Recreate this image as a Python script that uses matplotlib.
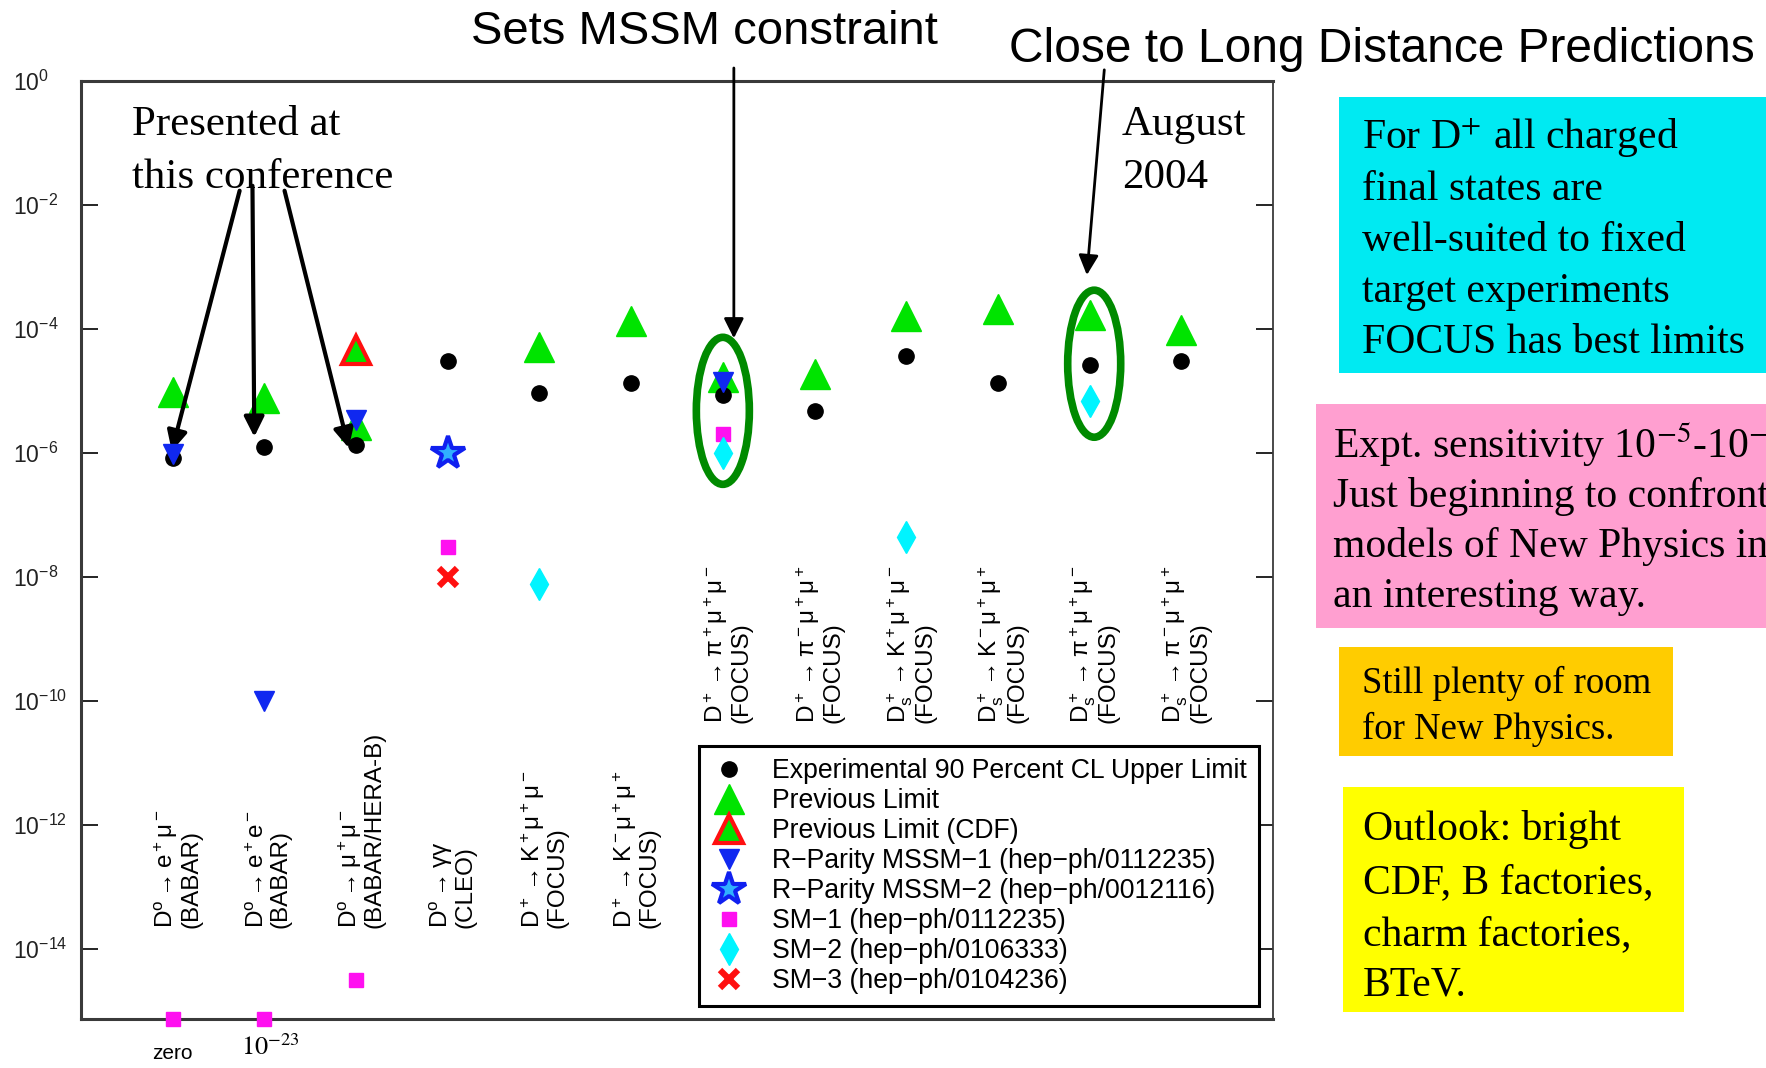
import numpy as np
import matplotlib
matplotlib.use("Agg")
import matplotlib.pyplot as plt
from matplotlib.patches import Ellipse, Rectangle

plt.rcParams['font.family'] = ['Liberation Sans', 'DejaVu Sans']
plt.rcParams['mathtext.fontset'] = 'custom'
plt.rcParams['mathtext.rm'] = 'Liberation Sans'
plt.rcParams['mathtext.it'] = 'Liberation Sans:italic'
plt.rcParams['mathtext.bf'] = 'Liberation Sans:bold'

# ---------------- data ----------------
nan = np.nan
decays = [r'D^o\rightarrow e^+\mu^-', r'D^o\rightarrow e^+e^-', r'D^o\rightarrow \mu^+\mu^-',
          r'D^o\rightarrow \gamma\gamma', r'D^+\rightarrow K^+\mu^+\mu^-', r'D^+\rightarrow K^-\mu^+\mu^+',
          r'D^+\rightarrow \pi^+\mu^+\mu^-', r'D^+\rightarrow \pi^-\mu^+\mu^+',
          r'D_s^+\rightarrow K^+\mu^+\mu^-', r'D_s^+\rightarrow K^-\mu^+\mu^+',
          r'D_s^+\rightarrow \pi^+\mu^+\mu^-', r'D_s^+\rightarrow \pi^-\mu^+\mu^+']
experiments = ['BABAR', 'BABAR', 'BABAR/HERA-B', 'CLEO', 'FOCUS', 'FOCUS',
               'FOCUS', 'FOCUS', 'FOCUS', 'FOCUS', 'FOCUS', 'FOCUS']
exp_limit = [8.3e-7, 1.26e-6, 1.36e-6, 3.0e-5, 9.3e-6, 1.36e-5,
             8.5e-6, 4.8e-6, 3.6e-5, 1.36e-5, 2.6e-5, 3.0e-5]
prev_limit = [9.8e-6, 7.6e-6, 2.8e-6, nan, 5.2e-5, 1.35e-4,
              1.7e-5, 1.9e-5, 1.6e-4, 2.1e-4, 1.7e-4, 9.8e-5]
prev_limit_cdf = [nan, nan, 4.6e-5, nan, nan, nan, nan, nan, nan, nan, nan, nan]
rpv_mssm1 = [9.8e-7, 1.0e-10, 3.4e-6, nan, nan, nan, 1.4e-5, nan, nan, nan, nan, nan]
rpv_mssm2 = [nan, nan, nan, 1.0e-6, nan, nan, nan, nan, nan, nan, nan, nan]
sm1 = [0.0, 1e-23, 3.2e-15, 3.0e-8, nan, nan, 2.0e-6, nan, nan, nan, nan, nan]
sm2 = [nan, nan, nan, nan, 7.6e-9, nan, 1.0e-6, nan, 4.4e-8, nan, 6.9e-6, nan]
sm3 = [nan, nan, nan, 1.0e-8, nan, nan, nan, nan, nan, nan, nan, nan]
ytick_exp = [0, -2, -4, -6, -8, -10, -12, -14]

W, H = 1766, 1068
YMIN = 10 ** -15.13

fig = plt.figure(figsize=(W / 100, H / 100), dpi=100)
ax = fig.add_axes([81 / W, 1 - 1019 / H, (1273 - 81) / W, (1019 - 81) / H])
ax.set_yscale('log')
ax.set_xlim(0, 13)
ax.set_ylim(YMIN, 1)

x = np.arange(1, len(decays) + 1)

green = '#00E400'
ax.plot(x, exp_limit, 'o', ms=11, color='black', label='Experimental 90 Percent CL Upper Limit', zorder=4)
ax.plot(x, prev_limit, '^', ms=21, color=green, mec=green, label='Previous Limit', zorder=3)
ax.plot(x, prev_limit_cdf, '^', ms=20, mfc=green, mec='#FF1010', mew=3, label='Previous Limit (CDF)', zorder=3)
ax.plot(x, rpv_mssm1, 'v', ms=14, color='#1028F0', label='R\u2212Parity MSSM\u22121 (hep\u2212ph/0112235)', zorder=5)
ax.plot(x, rpv_mssm2, '*', ms=25, mfc='#30B0FF', mec='#1020F0', mew=3, label='R\u2212Parity MSSM\u22122 (hep\u2212ph/0012116)', zorder=5)
sm1_plot = np.clip(np.array(sm1, dtype=float), YMIN, None)
ax.plot(x, sm1_plot, 's', ms=9.5, color='#FF10F0', label='SM\u22121 (hep\u2212ph/0112235)', zorder=6, clip_on=False)
ax.plot(x, sm2, 'd', ms=16, color='#00F4FF', label='SM\u22122 (hep\u2212ph/0106333)', zorder=6)
ax.plot(x, sm3, 'x', ms=13, mew=4.5, color='#FF1010', label='SM\u22123 (hep\u2212ph/0104236)', zorder=6)

# axes styling
ax.set_xticks([])
ax.set_yticks([10.0 ** e for e in ytick_exp])
ax.set_yticklabels([r'$10^{%d}$' % e for e in ytick_exp])
ax.minorticks_off()
ax.tick_params(axis='y', which='major', direction='in', length=12, width=1.2,
               left=True, right=True, labelsize=16.5, labelcolor='#222222', pad=49)
for lab in ax.get_yticklabels():
    lab.set_horizontalalignment('left')
for side in ['left', 'top', 'bottom']:
    ax.spines[side].set_linewidth(2.2)
    ax.spines[side].set_color('#3a3a3a')
ax.spines['right'].set_linewidth(1.3)
ax.spines['right'].set_color('#3a3a3a')

# category labels
for i, (d, e) in enumerate(zip(decays, experiments)):
    ybot = 10 ** -13.66 if i < 6 else 10 ** -10.35
    ax.text(x[i] + 0.05, ybot, r'$\mathrm{' + d + '}$' + '\n(' + e + ')', rotation=90,
            ha='center', va='bottom', multialignment='left', fontsize=17.5, linespacing=1.0, zorder=2)

# below-axis notes
ax.text(1, -0.037, 'zero', transform=ax.get_xaxis_transform(), ha='center', va='center',
        fontsize=15, clip_on=False)
ax.text(2.06, -0.030, r'$10^{-23}$', transform=ax.get_xaxis_transform(), ha='center', va='center',
        fontsize=19, math_fontfamily='stix', clip_on=False)

# legend
leg = ax.legend(loc='lower right', bbox_to_anchor=(0.988, 0.014), borderaxespad=0,
                fontsize=19.2, frameon=True, fancybox=False, framealpha=1, edgecolor='black',
                handlelength=1.4, handletextpad=0.9, borderpad=0.45, labelspacing=0.15,
                numpoints=1)
leg.get_frame().set_linewidth(2.2)

# annotations in the axes
serif = ['Liberation Serif', 'DejaVu Serif']

def fig_line(xp, yb, t, size, **kw):
    fig.text(xp / W, 1 - yb / H, t, ha='left', va='baseline', fontsize=size,
             family=serif, math_fontfamily='stix', **kw)

fig_line(132, 135, 'Presented at', 31)
fig_line(132, 188, 'this conference', 31)
fig_line(1122, 135, 'August', 31)
fig_line(1122, 188, '2004', 31)

arrow_thick = dict(arrowstyle='-|>', color='black', lw=3, mutation_scale=30, shrinkA=0, shrinkB=0)
for (sx, sy), (ex, ey) in [((1.73, -1.77), (0.99, -5.97)),
                           ((1.87, -1.69), (1.89, -5.74)),
                           ((2.22, -1.77), (2.92, -5.92))]:
    ax.annotate('', xy=(ex, 10 ** ey), xytext=(sx, 10 ** sy), arrowprops=arrow_thick,
                annotation_clip=False)
arrow_thin = dict(arrowstyle='-|>', color='black', lw=2, mutation_scale=30, shrinkA=0, shrinkB=0)
ax.annotate('', xy=(7.12, 10 ** -4.15), xytext=(7.12, 10 ** 0.21), arrowprops=arrow_thin,
            annotation_clip=False)
ax.annotate('', xy=(10.97, 10 ** -3.13), xytext=(11.16, 10 ** 0.18), arrowprops=arrow_thin,
            annotation_clip=False)

# ellipses around highlighted channels
def to_axes(xv, yv):
    return ax.transAxes.inverted().transform(ax.transData.transform((xv, yv)))

for cx, cy in [(7.0, 10 ** -5.32), (11.05, 10 ** -4.56)]:
    c = to_axes(cx, cy)
    ax.add_patch(Ellipse(c, 53 / 1192, 147 / 938, transform=ax.transAxes, fill=False,
                         ec='#008A00', lw=5.5, zorder=7, clip_on=False))

# titles above
fig.text(704 / W, 1 - 32 / H, 'Sets MSSM constraint', ha='center', va='center', fontsize=34)
fig.text(1382 / W, 1 - 49 / H, 'Close to Long Distance Predictions', ha='center', va='center', fontsize=34.5)

# right-side coloured boxes
def box(x0, y0, x1, y1, color):
    fig.add_artist(Rectangle((x0 / W, 1 - y1 / H), (x1 - x0) / W, (y1 - y0) / H,
                             transform=fig.transFigure, facecolor=color, edgecolor='none', zorder=0))

def lines(x0, baselines, texts, size):
    for yb, t in zip(baselines, texts):
        fig_line(x0, yb, t, size)

box(1339, 97, 1766, 373, '#00EAF2')
lines(1362, [149, 200, 251, 302, 353],
      ['For D$^{+}$ all charged', 'final states are', 'well-suited to fixed',
       'target experiments', 'FOCUS has best limits'], 30)
box(1316, 404, 1766, 628, '#FF9FD0')
lines(1333, [458, 507, 557, 607],
      ['Expt. sensitivity 10$^{-5}$-10$^{-6}$', 'Just beginning to confront',
       'models of New Physics in', 'an interesting way.'], 30)
box(1339, 647, 1673, 756, '#FFCC00')
lines(1362, [693, 739], ['Still plenty of room', 'for New Physics.'], 26.5)
box(1343, 787, 1684, 1012, '#FFFF00')
lines(1363, [840, 893, 945, 995],
      ['Outlook: bright', 'CDF, B factories,', 'charm factories,', 'BTeV.'], 30)

fig.savefig('out.png', dpi=100)
